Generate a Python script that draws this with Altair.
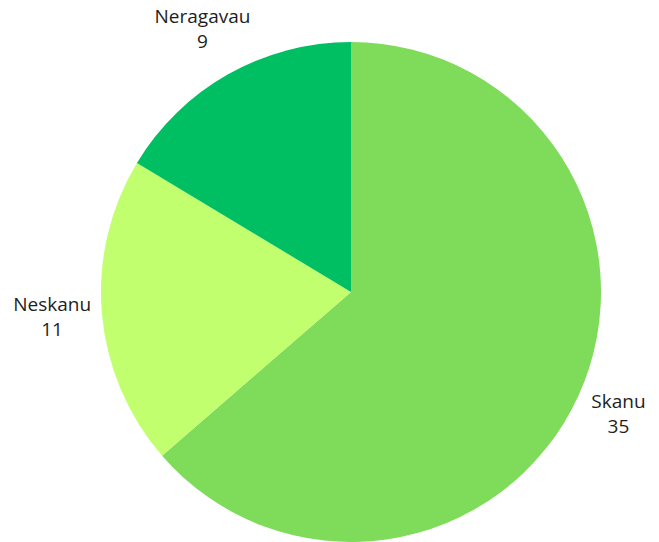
import altair as alt
import pandas as pd

categories = ["Skanu", "Neskanu", "Neragavau"]
values = [35, 11, 9]
colors = ["#7fdb5a", "#c2ff6e", "#00bf63"]

df = pd.DataFrame({
    "category": categories,
    "value": values,
    "order": list(range(len(categories))),
})
df["label"] = df["category"] + "\n" + df["value"].astype(str)

cx, cy = 343, 284

pie = alt.Chart(df).mark_arc(outerRadius=250).encode(
    theta=alt.Theta("value:Q", stack=True),
    order=alt.Order("order:Q"),
    x=alt.value(cx),
    y=alt.value(cy),
    color=alt.Color("category:N",
                    scale=alt.Scale(domain=categories, range=colors),
                    legend=None),
)

label_radius = {"Skanu": 294, "Neskanu": 300, "Neragavau": 302}
layers = [pie]
for cat in categories:
    layers.append(
        alt.Chart(df)
        .transform_joinaggregate(total="sum(value)")
        .transform_window(cum="sum(value)", sort=[alt.SortField("order")])
        .transform_calculate(ang="(datum.cum - datum.value / 2) / datum.total * 2 * PI")
        .transform_filter(alt.datum.category == cat)
        .mark_text(radius=label_radius[cat], fontSize=19, font="Open Sans",
                   color="#1e1e1e", lineBreak="\n", lineHeight=25,
                   align="center", baseline="middle", dy=-12.5)
        .encode(
            theta=alt.Theta("ang:Q", scale=None),
            x=alt.value(cx),
            y=alt.value(cy),
            text="label:N",
        )
    )

chart = alt.layer(*layers).properties(
    width=643, height=534, padding=0, autosize="none"
).configure_view(stroke=None)

chart.save("out.html", embed_options={"renderer": "svg", "actions": False})
